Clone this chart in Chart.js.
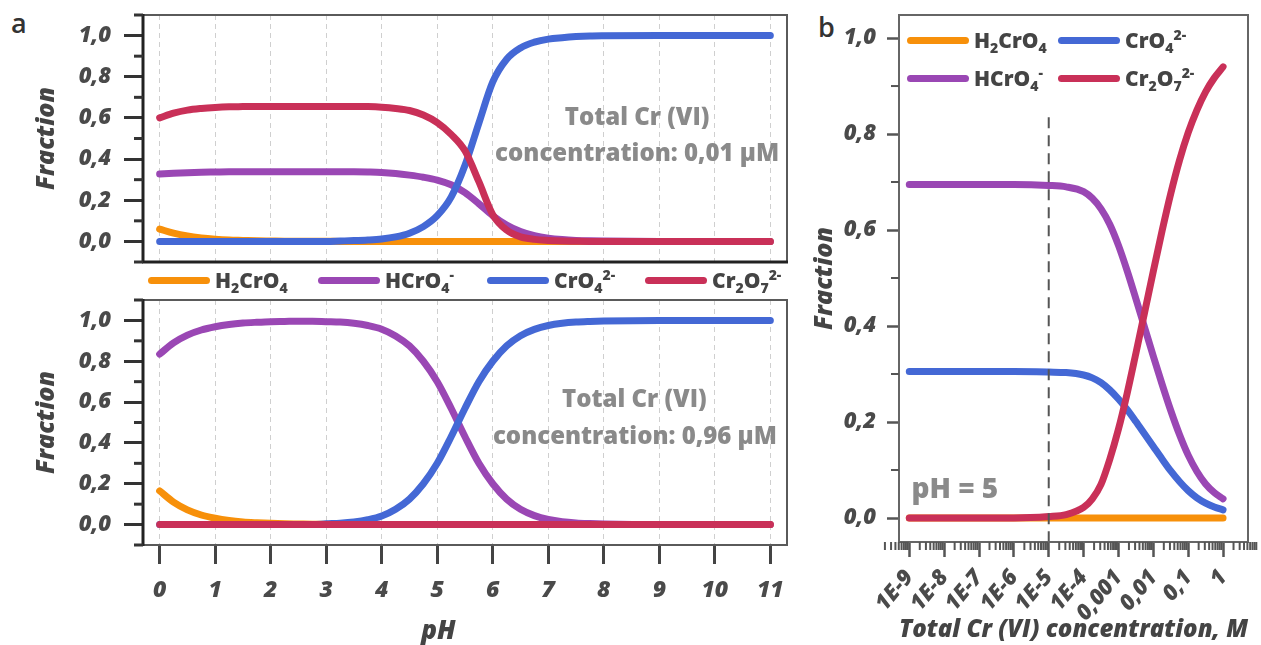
<!DOCTYPE html>
<html>
<head>
<meta charset="utf-8">
<script src="https://cdn.jsdelivr.net/npm/chart.js@4.4.1/dist/chart.umd.min.js"></script>
<style>
  body { margin: 0; background: #fff; width: 1261px; height: 645px; overflow: hidden; position: relative; font-family: "Open Sans", sans-serif; }
  canvas { position: absolute; }
  .tag { position: absolute; font-size: 27px; color: #333; font-weight: 600; }
  .leg { position: absolute; display: flex; align-items: center; height: 26px; font-weight: 800; font-size: 21px; color: #444; white-space: nowrap; line-height: 26px; }
  .leg i { display: inline-block; width: 62px; height: 7px; border-radius: 4px; margin-right: 5px; }
  .leg sub, .leg sup { font-size: 14px; line-height: 0; }
</style>
</head>
<body>
<div class="tag" style="left:11px;top:4px">a</div>
<div class="tag" style="left:818px;top:8px">b</div>

<canvas id="topChart" width="800" height="272" style="left:0;top:0"></canvas>
<canvas id="botChart" width="800" height="355" style="left:0;top:290px"></canvas>
<canvas id="concChart" width="451" height="645" style="left:810px;top:0"></canvas>

<div class="leg" style="left:148px;top:267px"><i style="background:#f7900a"></i><span>H<sub>2</sub>CrO<sub>4</sub></span></div>
<div class="leg" style="left:318px;top:267px"><i style="background:#9a47b4"></i><span>HCrO<sub>4</sub><sup>-</sup></span></div>
<div class="leg" style="left:487px;top:267px"><i style="background:#4468d5"></i><span>CrO<sub>4</sub><sup>2-</sup></span></div>
<div class="leg" style="left:645px;top:267px"><i style="background:#c93058"></i><span>Cr<sub>2</sub>O<sub>7</sub><sup>2-</sup></span></div>

<div class="leg" style="left:907px;top:27px"><i style="background:#f7900a"></i><span>H<sub>2</sub>CrO<sub>4</sub></span></div>
<div class="leg" style="left:1058px;top:27px"><i style="background:#4468d5"></i><span>CrO<sub>4</sub><sup>2-</sup></span></div>
<div class="leg" style="left:907px;top:65px"><i style="background:#9a47b4"></i><span>HCrO<sub>4</sub><sup>-</sup></span></div>
<div class="leg" style="left:1058px;top:65px"><i style="background:#c93058"></i><span>Cr<sub>2</sub>O<sub>7</sub><sup>2-</sup></span></div>

<script>
// pH grid for panel a
const pH = [0, 0.25, 0.5, 0.75, 1, 1.25, 1.5, 1.75, 2, 2.25, 2.5, 2.75, 3, 3.25, 3.5, 3.75, 4, 4.25,
            4.5, 4.75, 5, 5.25, 5.5, 5.75, 6, 6.25, 6.5, 6.75, 7, 7.25, 7.5, 7.75, 8, 9, 10, 11];

// total Cr(VI) 0,01 uM
const lowH2CrO4 = [0.06, 0.04, 0.026, 0.017, 0.011, 0.007, 0.005, 0.003, 0.002, 0.001, 0.001, 0.001, 0.001, 0, 0, 0, 0, 0,
                   0, 0, 0, 0, 0, 0, 0, 0, 0, 0, 0, 0, 0, 0, 0, 0, 0, 0];
const lowHCrO4 = [0.327, 0.331, 0.334, 0.336, 0.337, 0.338, 0.338, 0.338, 0.338, 0.338, 0.338, 0.338, 0.338, 0.338, 0.338, 0.337, 0.335, 0.33,
                  0.322, 0.312, 0.298, 0.275, 0.237, 0.183, 0.125, 0.08, 0.048, 0.028, 0.016, 0.009, 0.005, 0.003, 0.002, 0, 0, 0];
const lowCrO4 = [0, 0, 0, 0, 0, 0, 0, 0, 0, 0, 0, 0, 0, 0.002, 0.004, 0.007, 0.012, 0.022,
                 0.04, 0.072, 0.125, 0.215, 0.37, 0.575, 0.775, 0.885, 0.94, 0.968, 0.983, 0.99, 0.995, 0.998, 0.999, 1, 1, 1];
const lowCr2O7 = [0.6, 0.623, 0.638, 0.646, 0.651, 0.654, 0.655, 0.656, 0.656, 0.656, 0.656, 0.656, 0.656, 0.656, 0.656, 0.655, 0.652, 0.646,
                  0.636, 0.614, 0.577, 0.52, 0.44, 0.29, 0.13, 0.055, 0.022, 0.01, 0.005, 0.002, 0.001, 0, 0, 0, 0, 0];

// total Cr(VI) 0,96 uM
const highH2CrO4 = [0.165, 0.11, 0.072, 0.047, 0.031, 0.02, 0.013, 0.009, 0.006, 0.004, 0.003, 0.002, 0.002, 0.001, 0.001, 0.001, 0.001, 0,
                    0, 0, 0, 0, 0, 0, 0, 0, 0, 0, 0, 0, 0, 0, 0, 0, 0, 0];
const highHCrO4 = [0.835, 0.89, 0.928, 0.953, 0.969, 0.98, 0.987, 0.991, 0.994, 0.995, 0.996, 0.996, 0.994, 0.992, 0.986, 0.975, 0.957, 0.924,
                   0.875, 0.8, 0.7, 0.57, 0.43, 0.3, 0.2, 0.125, 0.075, 0.044, 0.025, 0.014, 0.008, 0.005, 0.003, 0, 0, 0];
const highCrO4 = [0, 0, 0, 0, 0, 0, 0, 0, 0, 0, 0, 0, 0.004, 0.007, 0.013, 0.024, 0.042, 0.075,
                  0.125, 0.2, 0.3, 0.43, 0.57, 0.7, 0.8, 0.875, 0.925, 0.956, 0.975, 0.986, 0.992, 0.995, 0.997, 1, 1, 1];
const highCr2O7 = [0, 0, 0, 0, 0, 0, 0, 0, 0, 0, 0, 0, 0, 0, 0, 0, 0, 0,
                   0, 0, 0, 0, 0, 0, 0, 0, 0, 0, 0, 0, 0, 0, 0, 0, 0, 0];

// panel b, pH = 5
const conc = [1e-9, 1e-8, 1e-7, 1e-6, 1e-5, 3.16e-5, 1e-4, 1.78e-4, 3.16e-4, 5.62e-4, 1e-3, 1.78e-3,
              3.16e-3, 5.62e-3, 1e-2, 1.78e-2, 3.16e-2, 5.62e-2, 0.1, 0.178, 0.316, 0.562, 1];
const concH2CrO4 = [0, 0, 0, 0, 0, 0, 0, 0, 0, 0, 0, 0, 0, 0, 0, 0, 0, 0, 0, 0, 0, 0, 0];
const concHCrO4 = [0.695, 0.695, 0.695, 0.695, 0.693, 0.69, 0.68, 0.666, 0.644, 0.612, 0.568, 0.515,
                   0.457, 0.397, 0.337, 0.279, 0.224, 0.174, 0.131, 0.097, 0.071, 0.053, 0.04];
const concCrO4 = [0.305, 0.305, 0.305, 0.305, 0.304, 0.303, 0.298, 0.292, 0.282, 0.267, 0.248, 0.226,
                  0.201, 0.175, 0.149, 0.123, 0.098, 0.076, 0.057, 0.042, 0.031, 0.023, 0.017];
const concCr2O7 = [0, 0, 0, 0, 0.003, 0.007, 0.022, 0.04, 0.07, 0.122, 0.185, 0.26,
                   0.343, 0.428, 0.514, 0.598, 0.676, 0.745, 0.803, 0.85, 0.888, 0.917, 0.94];
const markX = [1e-5, 1e-5];
const markY = [0.835, -0.05];

// ticks
const fracTicks = [0, 0.2, 0.4, 0.6, 0.8, 1];
const fracMinorA = [-0.1, 0.1, 0.3, 0.5, 0.7, 0.9, 1.1];
const fracMinorB = [0.1, 0.3, 0.5, 0.7, 0.9];
const pHTicks = [0, 1, 2, 3, 4, 5, 6, 7, 8, 9, 10, 11];
const concTicks = [1e-9, 1e-8, 1e-7, 1e-6, 1e-5, 1e-4, 1e-3, 1e-2, 1e-1, 1];
const concLabels = ['1E-9', '1E-8', '1E-7', '1E-6', '1E-5', '1E-4', '0,001', '0,01', '0,1', '1'];

const ORANGE = '#f7900a', PURPLE = '#9a47b4', BLUE = '#4468d5', RED = '#c93058';
const FONT = '"Open Sans", sans-serif';

Chart.defaults.font.family = FONT;
Chart.defaults.color = '#4a4a4a';

function pts(xs, ys) {
  return xs.map((x, i) => ({ x: x, y: ys[i] }));
}

function curve(label, xs, ys, color, order) {
  return {
    label: label,
    data: pts(xs, ys),
    borderColor: color,
    borderWidth: 7,
    borderCapStyle: 'round',
    borderJoinStyle: 'round',
    pointRadius: 0,
    cubicInterpolationMode: 'monotone',
    fill: false,
    order: order
  };
}

function comma(v) {
  return v.toFixed(1).replace('.', ',');
}

// no automatic label padding, the chart area comes from layout.padding only
function noPad(s) {
  s.paddingTop = 0; s.paddingBottom = 0; s.paddingLeft = 0; s.paddingRight = 0;
}

// frame, minor ticks and the grey notes
const extras = {
  id: 'extras',
  beforeDatasetsDraw(chart, args, opts) {
    const { ctx, scales } = chart;
    ctx.save();
    (opts.notes || []).forEach(n => {
      ctx.font = n.font;
      ctx.fillStyle = n.color;
      ctx.textAlign = n.align || 'center';
      ctx.textBaseline = 'middle';
      ctx.fillText(n.text, scales.x.getPixelForValue(n.x), scales.y.getPixelForValue(n.y));
    });
    ctx.restore();
  },
  afterDraw(chart, args, opts) {
    const { ctx, chartArea: a, scales } = chart;
    ctx.save();
    ctx.strokeStyle = opts.frameColor;
    ctx.lineWidth = opts.frameWidth;
    ctx.strokeRect(a.left, a.top, a.right - a.left, a.bottom - a.top);
    (opts.spines || []).forEach(s => {
      ctx.strokeStyle = s.color;
      ctx.lineWidth = s.width;
      ctx.beginPath();
      if (s.side === 'left') { ctx.moveTo(a.left, a.top - 1); ctx.lineTo(a.left, a.bottom + 1); }
      else { ctx.moveTo(a.left - 1, a.bottom); ctx.lineTo(a.right + 1, a.bottom); }
      ctx.stroke();
    });
    ctx.strokeStyle = opts.tickColor;
    ctx.lineWidth = opts.tickWidth;
    (opts.minorY || []).forEach(v => {
      const y = scales.y.getPixelForValue(v);
      ctx.beginPath(); ctx.moveTo(a.left - opts.minorLen, y); ctx.lineTo(a.left, y); ctx.stroke();
    });
    (opts.minorX || []).forEach(v => {
      const x = scales.x.getPixelForValue(v);
      ctx.beginPath(); ctx.moveTo(x, a.bottom); ctx.lineTo(x, a.bottom + opts.minorLen); ctx.stroke();
    });
    ctx.restore();
  }
};

const tickFont = { size: 22, weight: 800, style: 'italic' };
const titleFont = { size: 25, weight: 800, style: 'italic' };
const noteFont = '800 24px ' + FONT;

function fracAxis(width, title) {
  return {
    type: 'linear', min: -0.1, max: 1.1,
    afterBuildTicks: s => { s.ticks = fracTicks.map(v => ({ value: v })); },
    afterFit: s => { s.width = width; noPad(s); },
    ticks: { font: tickFont, padding: 13, callback: v => comma(v) },
    grid: { drawOnChartArea: false, drawTicks: true, tickLength: 19, tickColor: '#333', tickWidth: 3 },
    border: { display: false },
    title: { display: true, text: title, font: titleFont, color: '#444', padding: { top: 32, bottom: 0 } }
  };
}

function pHAxis(showTicks, height) {
  return {
    type: 'linear', min: -0.3, max: 11.3,
    afterBuildTicks: s => { s.ticks = pHTicks.map(v => ({ value: v })); },
    afterFit: s => { s.height = height; noPad(s); },
    ticks: { display: showTicks, font: { size: 23, weight: 800, style: 'italic' }, padding: 13, maxRotation: 0, autoSkip: false },
    grid: { color: '#cfcfcf', lineWidth: 1, drawTicks: showTicks, tickLength: 19, tickColor: '#444', tickWidth: 3 },
    border: { display: false, dash: [5, 4] }
  };
}

function fourCurves(xs, h2, h, cr, cr2) {
  return [
    curve('H2CrO4', xs, h2, ORANGE, 4),
    curve('HCrO4-', xs, h, PURPLE, 3),
    curve('CrO4 2-', xs, cr, BLUE, 2),
    curve('Cr2O7 2-', xs, cr2, RED, 1)
  ];
}

new Chart(document.getElementById('topChart'), {
  type: 'line',
  data: { datasets: fourCurves(pH, lowH2CrO4, lowHCrO4, lowCrO4, lowCr2O7) },
  plugins: [extras],
  options: {
    responsive: false, animation: false,
    layout: { padding: { top: 15, right: 13, bottom: 10, left: 0 } },
    scales: { x: pHAxis(false, 0), y: fracAxis(143, 'Fraction') },
    plugins: {
      legend: { display: false }, tooltip: { enabled: false },
      extras: {
        frameColor: '#5a5a5a', frameWidth: 2,
        spines: [{ side: 'left', color: '#222', width: 3 }, { side: 'bottom', color: '#222', width: 3 }],
        tickColor: '#333', tickWidth: 3, minorLen: 9, minorY: fracMinorA,
        notes: [
          { text: 'Total Cr (VI)', x: 8.6, y: 0.6, font: noteFont, color: '#8a8a8a' },
          { text: 'concentration: 0,01 µM', x: 8.6, y: 0.425, font: noteFont, color: '#8a8a8a' }
        ]
      }
    }
  }
});

new Chart(document.getElementById('botChart'), {
  type: 'line',
  data: { datasets: fourCurves(pH, highH2CrO4, highHCrO4, highCrO4, highCr2O7) },
  plugins: [extras],
  options: {
    responsive: false, animation: false,
    layout: { padding: { top: 10, right: 13, bottom: 0, left: 0 } },
    scales: { x: pHAxis(true, 100), y: fracAxis(143, 'Fraction') },
    plugins: {
      legend: { display: false }, tooltip: { enabled: false },
      extras: {
        frameColor: '#5a5a5a', frameWidth: 2,
        spines: [{ side: 'left', color: '#222', width: 3 }],
        tickColor: '#333', tickWidth: 3, minorLen: 9, minorY: fracMinorA,
        notes: [
          { text: 'Total Cr (VI)', x: 8.55, y: 0.61, font: noteFont, color: '#8a8a8a' },
          { text: 'concentration: 0,96 µM', x: 8.56, y: 0.43, font: noteFont, color: '#8a8a8a' },
          { text: 'pH', x: 5.02, y: -0.525, font: 'italic 800 26px ' + FONT, color: '#444' }
        ]
      }
    }
  }
});

// minor ticks of the log axis: 2..9 in every decade
const concMinor = [];
for (let d = -10; d <= 0; d++) {
  for (let k = 2; k <= 9; k++) concMinor.push(k * Math.pow(10, d));
}

const bData = fourCurves(conc, concH2CrO4, concHCrO4, concCrO4, concCr2O7);
bData.push({
  label: 'pH 5 line', data: pts(markX, markY), borderColor: '#555', borderWidth: 2,
  borderDash: [11, 7], pointRadius: 0, fill: false, order: 0
});

new Chart(document.getElementById('concChart'), {
  type: 'line',
  data: { datasets: bData },
  plugins: [extras],
  options: {
    responsive: false, animation: false,
    layout: { padding: { top: 15, right: 13, bottom: 0, left: 0 } },
    scales: {
      x: {
        type: 'logarithmic', min: 5.07e-10, max: 5.2,
        afterBuildTicks: s => { s.ticks = concTicks.map(v => ({ value: v })); },
        afterFit: s => { s.height = 103; noPad(s); },
        ticks: { font: { size: 22, weight: 800, style: 'italic' }, padding: 8, minRotation: 50, maxRotation: 50, autoSkip: false,
                 callback: (v, i) => concLabels[i] },
        grid: { drawOnChartArea: false, drawTicks: true, tickLength: 15, tickColor: '#555', tickWidth: 2.5 },
        border: { display: false },
        title: { display: true, text: 'Total Cr (VI) concentration, M', font: titleFont, color: '#444', padding: { top: 0, bottom: 0 } }
      },
      y: {
        type: 'linear', min: -0.05, max: 1.048,
        afterBuildTicks: s => { s.ticks = fracTicks.map(v => ({ value: v })); },
        afterFit: s => { s.width = 89; noPad(s); },
        ticks: { font: tickFont, padding: 11, callback: v => comma(v) },
        grid: { drawOnChartArea: false, drawTicks: true, tickLength: 12, tickColor: '#555', tickWidth: 2.5 },
        border: { display: false },
        title: { display: true, text: 'Fraction', font: titleFont, color: '#444', padding: { top: 0, bottom: 0 } }
      }
    },
    plugins: {
      legend: { display: false }, tooltip: { enabled: false },
      extras: {
        frameColor: '#666', frameWidth: 2,
        tickColor: '#555', tickWidth: 2, minorLen: 8, minorY: fracMinorB, minorX: concMinor,
        notes: [
          { text: 'pH = 5', x: 1.15e-9, y: 0.058, font: '800 28px ' + FONT, color: '#8a8a8a', align: 'left' }
        ]
      }
    }
  }
});
</script>
</body>
</html>
